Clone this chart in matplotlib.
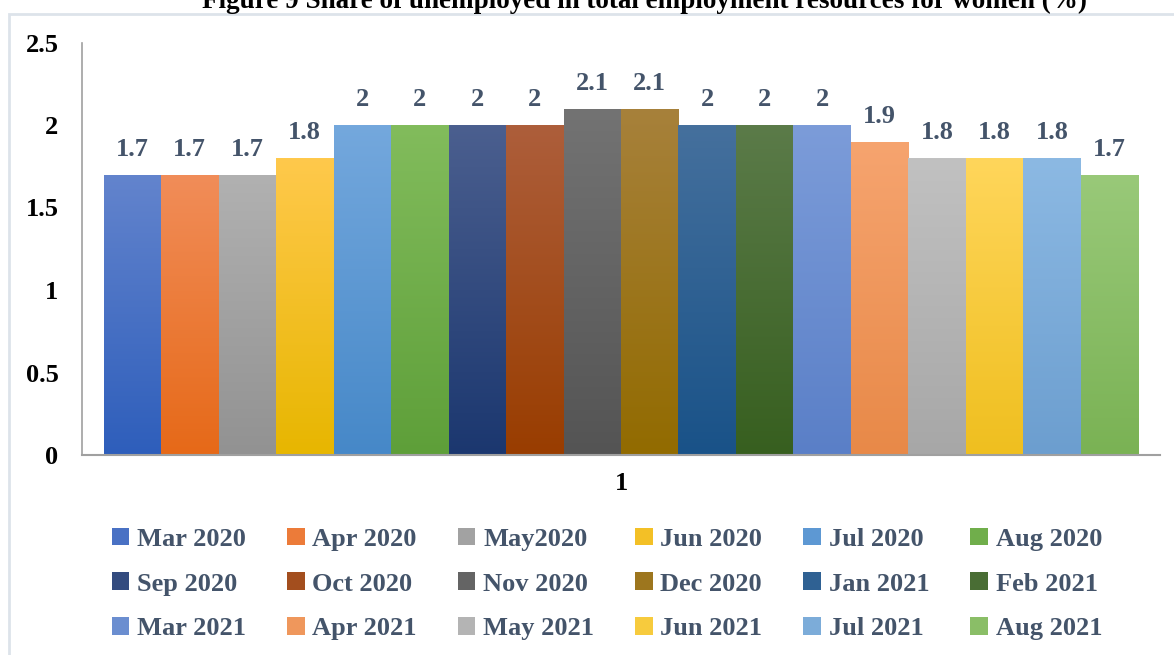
import numpy as np
import matplotlib
matplotlib.use("Agg")
import matplotlib.pyplot as plt
from matplotlib.colors import to_rgb
from matplotlib.patches import Rectangle

plt.rcParams['font.family'] = ['Liberation Serif', 'DejaVu Serif']
plt.rcParams['font.weight'] = 'bold'

title = "Figure 9 Share of unemployed in total employment resources for women (%)"
category = ["1"]
series = ["Mar 2020", "Apr 2020", "May2020", "Jun 2020", "Jul 2020", "Aug 2020",
          "Sep 2020", "Oct 2020", "Nov 2020", "Dec 2020", "Jan 2021", "Feb 2021",
          "Mar 2021", "Apr 2021", "May 2021", "Jun 2021", "Jul 2021", "Aug 2021"]
values = [1.7, 1.7, 1.7, 1.8, 2, 2, 2, 2, 2.1, 2.1, 2, 2, 2, 1.9, 1.8, 1.8, 1.8, 1.7]
value_labels = ["1.7", "1.7", "1.7", "1.8", "2", "2", "2", "2", "2.1", "2.1",
                "2", "2", "2", "1.9", "1.8", "1.8", "1.8", "1.7"]
yticks = [0, 0.5, 1, 1.5, 2, 2.5]
ytick_labels = ["0", "0.5", "1", "1.5", "2", "2.5"]

# (top, bottom) gradient colours per series
grad = [("#6384cd", "#2e5ebb"), ("#f18d59", "#e66918"), ("#b1b1b1", "#929292"),
        ("#ffc94c", "#e7b600"), ("#74a8dd", "#4688c8"), ("#82bc5c", "#5e9f39"),
        ("#4b5f8f", "#1b376f"), ("#ad5e3b", "#993d00"), ("#737373", "#545454"),
        ("#a7813b", "#926b00"), ("#45709d", "#195288"), ("#5b7b49", "#375f1f"),
        ("#7c9cd9", "#5a7fc7"), ("#f6a46f", "#e88948"), ("#c1c1c1", "#a7a7a7"),
        ("#ffd65b", "#efbf1f"), ("#8cb9e3", "#6c9ecf"), ("#99c979", "#7ab254")]

label_color = "#44546A"

fig = plt.figure(figsize=(11.74, 6.55), dpi=100)
ax = fig.add_axes([82/1174, 1-455/655, (1160-82)/1174, (455-42.5)/655])

n = len(series)
group_w = 0.96
w = group_w / n
x0 = np.arange(len(category))
handles = []
for i, (name, v) in enumerate(zip(series, values)):
    top_c, bot_c = np.array(to_rgb(grad[i][0])), np.array(to_rgb(grad[i][1]))
    mid_c = 0.5 * (top_c + bot_c)
    xpos = x0 - group_w/2 + w*(i + 0.5)
    bars = ax.bar(xpos, [v], width=w, color=mid_c, label=name, linewidth=0, zorder=2)
    handles.append(bars)
    for p in bars.patches:
        t = np.linspace(0, 1, 256)[:, None]
        img = (top_c[None, :] * (1 - t) + bot_c[None, :] * t)[:, None, :]
        im = ax.imshow(img, extent=[p.get_x(), p.get_x() + p.get_width(), 0, p.get_height()],
                       aspect='auto', zorder=2.5, interpolation='bilinear')
        im.set_clip_path(p)
        ax.annotate(value_labels[i], (p.get_x() + p.get_width()/2, p.get_height()),
                    xytext=(0, 10), textcoords='offset points', ha='center', va='bottom',
                    fontsize=19, fontweight='bold', color=label_color)

ax.set_xlim(-0.5, 0.5)
ax.set_ylim(0, 2.5)
ax.set_yticks(yticks)
ax.set_yticklabels(ytick_labels, fontsize=19, fontweight='bold', color='black')
ax.set_xticks(x0)
ax.set_xticklabels(category, fontsize=19, fontweight='bold', color='black')
ax.tick_params(axis='both', length=0)
ax.tick_params(axis='y', pad=17)
ax.tick_params(axis='x', pad=12)
for s in ['top', 'right']:
    ax.spines[s].set_visible(False)
ax.spines['left'].set_color('#a0a0a0')
ax.spines['bottom'].set_color('#a0a0a0')
ax.spines['left'].set_linewidth(1.2)
ax.spines['bottom'].set_linewidth(1.5)

# legend filled row by row (6 columns, 3 rows)
ncol = 6
nrow = int(np.ceil(n / ncol))
order = [r * ncol + c for c in range(ncol) for r in range(nrow)]
leg = fig.legend(handles=[handles[k] for k in order], labels=[series[k] for k in order],
                 loc='center', ncol=ncol,
                 bbox_to_anchor=(607/1174, 1-584/655), frameon=False,
                 prop={'family': 'Liberation Serif', 'weight': 'bold', 'size': 19},
                 handlelength=0.66, handleheight=0.66, handletextpad=0.3,
                 columnspacing=1.55, labelspacing=0.82)
for t in leg.get_texts():
    t.set_color(label_color)

fig.patches.append(Rectangle((9/1174, -0.05), 1.2, 1-14/655 + 0.05, transform=fig.transFigure,
                             fill=False, edgecolor='#dde3ea', linewidth=2, zorder=0))

fig.text(645/1174, 1-8/655, title, ha='center', va='baseline', fontsize=19.5,
         fontweight='bold', color='black')

fig.savefig("out.png", dpi=100)
